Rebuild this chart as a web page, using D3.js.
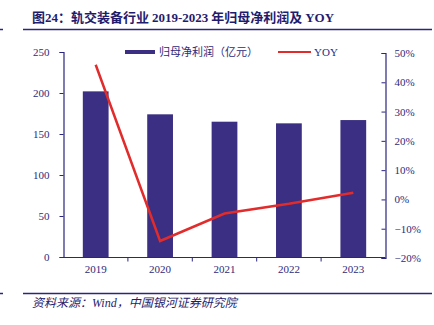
<!DOCTYPE html>
<html>
<head>
<meta charset="utf-8">
<script src="https://cdn.jsdelivr.net/npm/d3@7"></script>
<style>
  body { margin: 0; background: #fff; }
  svg { display: block; }
</style>
</head>
<body>
<div id="chart"></div>
<script>
// data
const years = ["2019", "2020", "2021", "2022", "2023"];
const profit = [202, 174, 165, 163, 167];   // 归母净利润（亿元）
const yoy = [46, -14.2, -4.8, -1.5, 2.3];   // YOY %
const leftTicks = [0, 50, 100, 150, 200, 250];
const rightTicks = [-20, -10, 0, 10, 20, 30, 40, 50];

const navy = "#2a2580";
const barColor = "#3a2f82";
const red = "#e22b2b";

const svg = d3.select("#chart").append("svg")
    .attr("width", 434)
    .attr("height", 325);

// title: latin parts in serif, like the source
const cjk = "'Noto Sans CJK SC', sans-serif";
const serif = "'Liberation Serif', serif";
const title = svg.append("text")
    .attr("x", 32).attr("y", 22)
    .attr("fill", "#1f1c6e")
    .style("font-weight", "bold")
    .style("font-size", "13px");
[["图", cjk], ["24", serif], ["：轨交装备行业 ", cjk], ["2019-2023", serif],
 [" 年归母净利润及 ", cjk], ["YOY", serif]].forEach(([t, f]) => {
    title.append("tspan").style("font-family", f).text(t);
});

svg.append("line").attr("x1", 23).attr("x2", 432).attr("y1", 29.5).attr("y2", 29.5)
    .attr("stroke", navy).attr("stroke-width", 1.5);
svg.append("line").attr("x1", 0).attr("x2", 3).attr("y1", 29.5).attr("y2", 29.5)
    .attr("stroke", navy).attr("stroke-width", 1.5);
svg.append("line").attr("x1", 23).attr("x2", 432).attr("y1", 293.5).attr("y2", 293.5)
    .attr("stroke", navy).attr("stroke-width", 1.5);
svg.append("line").attr("x1", 0).attr("x2", 3).attr("y1", 293.5).attr("y2", 293.5)
    .attr("stroke", navy).attr("stroke-width", 1.5);

svg.append("text")
    .attr("x", 32).attr("y", 307)
    .attr("fill", "#1f1c6e")
    .style("font-family", "'Liberation Serif', 'Noto Sans CJK SC', serif")
    .style("font-style", "italic")
    .style("font-size", "12px")
    .text("资料来源：Wind，中国银河证券研究院");

// scales
const x = d3.scaleBand().domain(years).range([63.5, 385.5]);
const yL = d3.scaleLinear().domain([0, 250]).range([257, 52]);
const yR = d3.scaleLinear().domain([-20, 50]).range([258, 53]);

// bars
svg.selectAll("rect.bar")
    .data(years)
    .enter().append("rect")
    .attr("class", "bar")
    .attr("x", (d) => x(d) + x.bandwidth() * 0.3)
    .attr("width", x.bandwidth() * 0.4)
    .attr("y", (d, i) => yL(profit[i]))
    .attr("height", (d, i) => yL(0) - yL(profit[i]))
    .attr("fill", barColor);

// line
const line = d3.line()
    .x((d, i) => x(years[i]) + x.bandwidth() / 2)
    .y((d) => yR(d));
svg.append("path")
    .datum(yoy)
    .attr("d", line)
    .attr("fill", "none")
    .attr("stroke", red)
    .attr("stroke-width", 2.5);

// axes
const tickFont = (g) => {
    g.selectAll("text")
        .attr("fill", "#2e2a7a")
        .style("font-family", serif)
        .style("font-size", "11px");
    g.selectAll("line").attr("stroke", navy);
    g.select(".domain").attr("stroke", navy).attr("stroke-width", 1.2);
};

svg.append("g")
    .attr("transform", "translate(63.5,0)")
    .call(d3.axisLeft(yL).tickValues(leftTicks).tickSize(4).tickSizeOuter(4).tickPadding(10))
    .call(tickFont);

svg.append("g")
    .attr("transform", "translate(385.5,0)")
    .call(d3.axisRight(yR).tickValues(rightTicks).tickSize(-4).tickSizeOuter(-4).tickPadding(9)
        .tickFormat((d) => (d < 0 ? "\u2212" + Math.abs(d) : d) + "%"))
    .call(tickFont);

const xAxis = svg.append("g")
    .attr("transform", "translate(0,257.5)")
    .call(d3.axisBottom(x).tickSize(0).tickPadding(8))
    .call(tickFont);
xAxis.select(".domain").attr("d", "M63.5,0H385.5");
// separators between categories
xAxis.selectAll("line.sep")
    .data(years.slice(1))
    .enter().append("line")
    .attr("class", "sep")
    .attr("x1", (d) => x(d)).attr("x2", (d) => x(d))
    .attr("y1", 0).attr("y2", 4)
    .attr("stroke", navy);

// legend
svg.append("rect").attr("x", 125).attr("y", 50).attr("width", 30).attr("height", 4).attr("fill", barColor);
svg.append("text").attr("x", 159).attr("y", 56)
    .attr("fill", "#2e2a7a")
    .style("font-family", cjk)
    .style("font-size", "11px")
    .text("归母净利润（亿元）");
svg.append("line").attr("x1", 278).attr("x2", 311).attr("y1", 52).attr("y2", 52)
    .attr("stroke", red).attr("stroke-width", 2);
svg.append("text").attr("x", 314).attr("y", 56)
    .attr("fill", "#2e2a7a")
    .style("font-family", serif)
    .style("font-size", "11px")
    .text("YOY");
</script>
</body>
</html>
